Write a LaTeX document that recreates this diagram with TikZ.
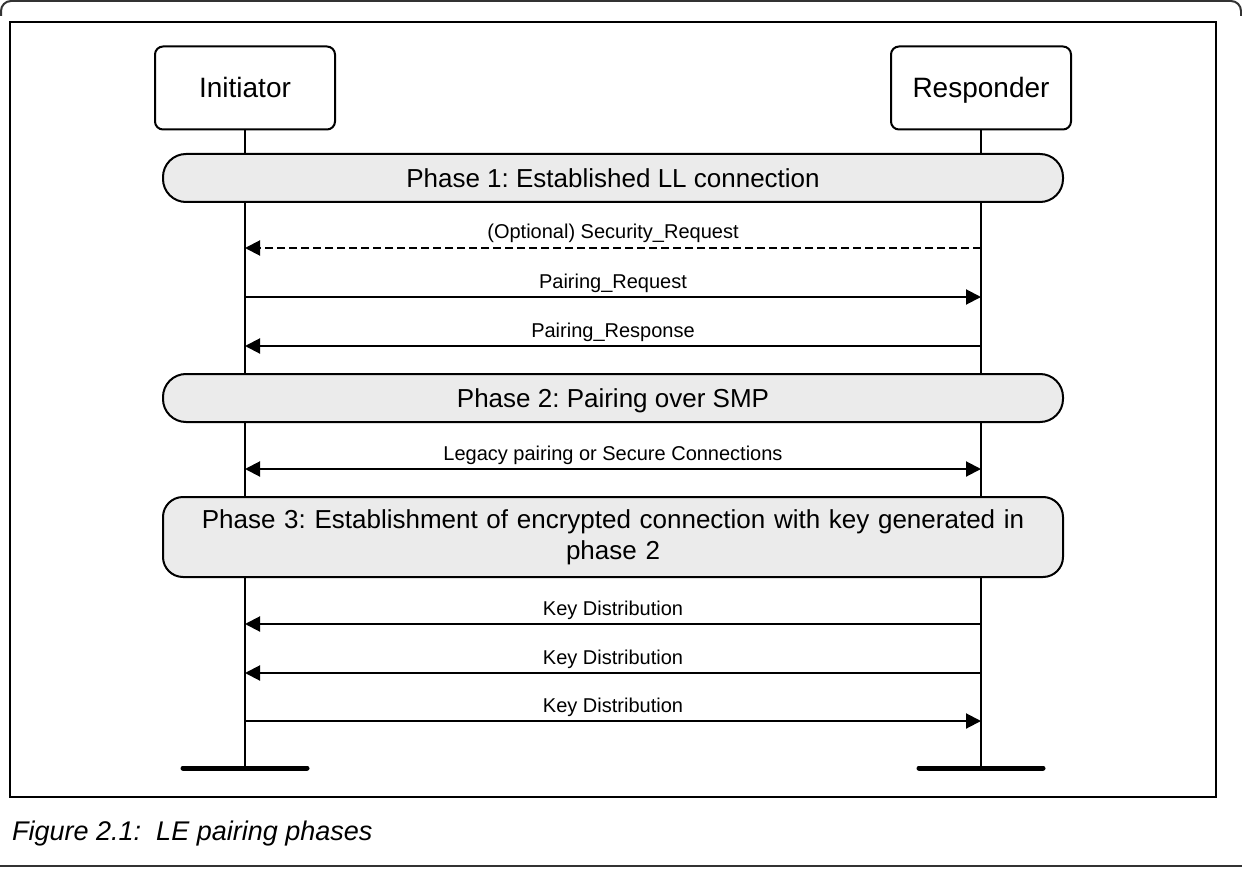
\documentclass[tikz,border=0pt]{standalone}
\usepackage{fontspec}
\setmainfont{Liberation Sans}
\usetikzlibrary{arrows.meta,positioning}
\frenchspacing
\tikzset{
    >={Triangle[length=15pt,width=15pt]},
    actor/.style={draw, line width=2pt, rounded corners=8pt, minimum width=180pt, minimum height=83pt,
        font=\fontsize{28}{32}\selectfont, text height=20pt, text depth=0pt},
    phase/.style={draw, line width=2pt, fill=black!8, rounded corners=23pt, minimum width=900pt,
        minimum height=48pt, font=\fontsize{26}{31}\selectfont, text height=19pt, text depth=0pt, inner sep=0pt},
    life/.style={line width=2.5pt},
    msg/.style={line width=2pt, ->},
    lbl/.style={anchor=base, yshift=9pt, font=\fontsize{20}{24}\selectfont, inner sep=0pt},
    bar/.style={line width=5pt, line cap=round}
}

\begin{document}
\begin{tikzpicture}[x=1pt,y=-1pt]
    \useasboundingbox (0,0) rectangle (1242,869);
    % frame
    \draw[black!80, line width=2pt, rounded corners=10pt] (1,16) -- (1,1) -- (1241,1) -- (1241,16);
    \draw[black!80, line width=2pt] (0,866) -- (1242,866);
    \draw[line width=2pt] (10,22) rectangle (1216,797);

    % actors and lifelines
    \node[actor] (init) at (245,88) {Initiator};
    \node[actor] (resp) at (981,88) {Responder};
    \coordinate (iend) at (245,768);
    \coordinate (rend) at (981,768);
    \draw[life] (init) -- (iend);
    \draw[life] (resp) -- (rend);
    \draw[bar] ([xshift=-62pt]iend) -- ([xshift=62pt]iend);
    \draw[bar] ([xshift=-62pt]rend) -- ([xshift=62pt]rend);

    % phase 1
    \node[phase] (ph1) at (613,178) {Phase 1: Established LL connection};
    \draw[msg, dash pattern=on 8pt off 4pt] (resp |- 0,248) -- node[lbl] {(Optional) Security\_Request} (init |- 0,248);
    \draw[msg] (init |- 0,297) -- node[lbl] {Pairing\_Request} (resp |- 0,297);
    \draw[msg] (resp |- 0,346) -- node[lbl] {Pairing\_Response} (init |- 0,346);

    % phase 2
    \node[phase] (ph2) at (613,398) {Phase 2: Pairing over SMP};
    \draw[msg, <->] (init |- 0,469) -- node[lbl] {Legacy pairing or Secure Connections} (resp |- 0,469);

    % phase 3
    \node[phase, rounded corners=20pt, minimum height=80pt, align=center, text width=880pt,
        text height={}, text depth={}] (ph3) at (613,537)
        {Phase 3: Establishment of encrypted connection with key generated in\\ phase 2};
    \draw[msg] (resp |- 0,624) -- node[lbl] {Key Distribution} (init |- 0,624);
    \draw[msg] (resp |- 0,673) -- node[lbl] {Key Distribution} (init |- 0,673);
    \draw[msg] (init |- 0,721) -- node[lbl] {Key Distribution} (resp |- 0,721);

    % caption
    \node[anchor=base west, inner sep=0pt, font=\fontsize{27}{32}\selectfont\itshape] (cap) at (12,840)
        {Figure 2.1:\ \ LE pairing phases};
\end{tikzpicture}
\end{document}
